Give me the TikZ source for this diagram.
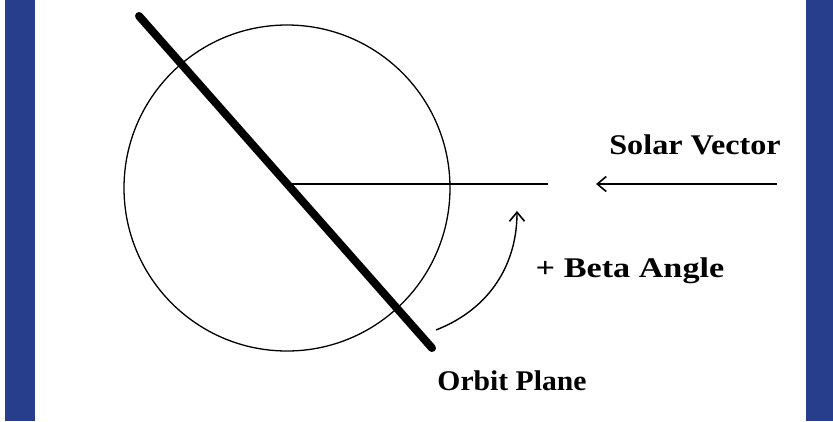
\documentclass[tikz,border=0pt]{standalone}
\usepackage{fontspec}
\setmainfont{Liberation Serif}
\usetikzlibrary{arrows.meta,calc}

\definecolor{frameblue}{RGB}{38,62,140}

\tikzset{
  label/.style={font=\bfseries\fontsize{28.5}{31}\selectfont, inner sep=0pt, anchor=base},
  thin line/.style={line width=1.6pt},
  barb/.style={-{Straight Barb[length=9pt,width=15pt,line width=1.6pt]}}
}

\begin{document}
\begin{tikzpicture}[x=1pt,y=-1pt]
    % background and blue side bands
    \fill[white] (0,0) rectangle (833,421);
    \useasboundingbox (0,0) rectangle (833,421);
    \fill[frameblue] (5,0) rectangle (35,421);
    \fill[frameblue] (806,0) rectangle (833,421);

    % orbit circle and orbit plane
    \coordinate (ctr) at (287,188);
    \coordinate (planeTop) at (139,16);
    \coordinate (planeBot) at (432,348);
    \draw[line width=1.3pt] (ctr) circle (163);
    \draw[line width=8pt, line cap=round] (planeTop) -- (planeBot);

    % sun line and solar vector
    \coordinate (sunEnd) at (548,184);
    \coordinate (vecStart) at (777,184);
    \coordinate (vecTip) at (596,184);
    \draw[thin line] (ctr |- sunEnd) -- (sunEnd);
    \draw[thin line, barb] (vecStart) -- (vecTip);
    \node[label, xscale=1.13] (solar) at (695,154) {Solar Vector};

    % beta angle arrow
    \coordinate (betaStart) at (436,330);
    \coordinate (betaTip) at (517,211);
    \draw[line width=1.4pt, barb] (betaStart) .. controls (492,308) and (517,262) .. (betaTip);
    \node[label, xscale=1.2] (beta) at (630,277) {+ Beta Angle};

    \node[label, xscale=1.04] (orbit) at (512,390) {Orbit Plane};
\end{tikzpicture}
\end{document}
